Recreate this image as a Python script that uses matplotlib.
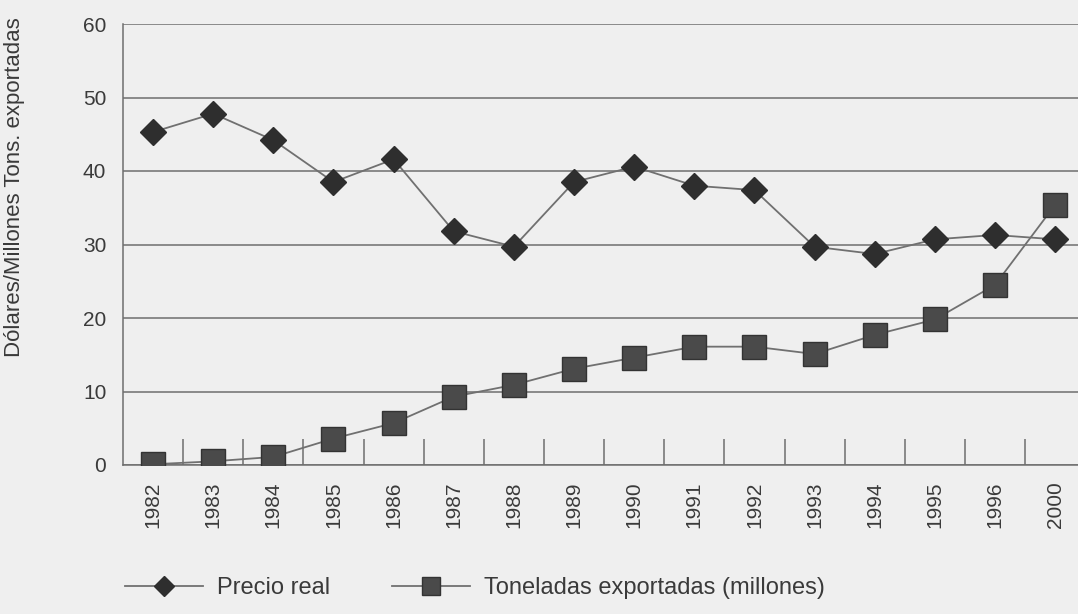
import matplotlib
matplotlib.use("Agg")
import matplotlib.pyplot as plt
from matplotlib import font_manager
import numpy as np

# data
years = ["1982", "1983", "1984", "1985", "1986", "1987", "1988", "1989",
         "1990", "1991", "1992", "1993", "1994", "1995", "1996", "2000"]
precio_real = [45.3, 47.8, 44.2, 38.5, 41.6, 31.8, 29.7, 38.5,
               40.6, 38.0, 37.4, 29.7, 28.7, 30.7, 31.3, 30.7]
toneladas = [0.1, 0.5, 1.1, 3.6, 5.7, 9.3, 10.9, 13.1,
             14.6, 16.1, 16.1, 15.1, 17.7, 19.8, 24.5, 35.4]
yticks = [0, 10, 20, 30, 40, 50, 60]

# condensed font if available
names = {f.name for f in font_manager.fontManager.ttflist}
fam = "Liberation Sans Narrow" if "Liberation Sans Narrow" in names else "Liberation Sans"
plt.rcParams["font.family"] = [fam, "DejaVu Sans"]

bg = "#efefef"
txt = "#3a3a3a"
gridc = "#6e6e6e"

fig = plt.figure(figsize=(10.78, 6.14), dpi=100, facecolor=bg)
ax = fig.add_axes([123 / 1078, 149 / 614, 955 / 1078, 441 / 614])
ax.set_facecolor(bg)

x = np.arange(len(years))
ax.plot(x, precio_real, color="#707070", lw=1.3, marker="D", ms=13,
        mfc="#2e2e2e", mec="#2e2e2e", label="Precio real", zorder=3)
ax.plot(x, toneladas, color="#707070", lw=1.3, marker="s", ms=17,
        mfc="#4a4a4a", mec="#333333", label="Toneladas exportadas (millones)", zorder=3)

ax.set_xlim(-0.5, 15.38)
ax.set_ylim(0, 60)
ax.set_yticks(yticks)
ax.yaxis.grid(True, color=gridc, lw=1.1)
ax.set_axisbelow(True)
ax.tick_params(axis="y", length=0, pad=12, labelsize=15, labelcolor=txt)

ax.set_xticks(x)
ax.set_xticklabels(years, rotation=90, fontsize=15, color=txt)
ax.set_xticks(x[:-1] + 0.5, minor=True)
ax.tick_params(axis="x", which="major", length=0, pad=12)
ax.tick_params(axis="x", which="minor", direction="in", length=19, width=1.1, color=gridc)

for s in ["top", "right"]:
    ax.spines[s].set_visible(False)
for s in ["left", "bottom"]:
    ax.spines[s].set_color(gridc)
    ax.spines[s].set_linewidth(1.1)

fig.text(15 / 1078, 1 - 187 / 614, "Dólares/Millones Tons. exportadas", rotation=90,
         ha="center", va="center", fontsize=16, color=txt)

leg = fig.legend(loc="center left", bbox_to_anchor=(104 / 1078, 1 - 588 / 614), ncol=2,
                 frameon=False, fontsize=17, handlelength=3.3, handletextpad=0.6,
                 columnspacing=2.6, markerscale=0.75)
for t in leg.get_texts():
    t.set_color(txt)

fig.savefig("out.png", dpi=100, facecolor=bg)
